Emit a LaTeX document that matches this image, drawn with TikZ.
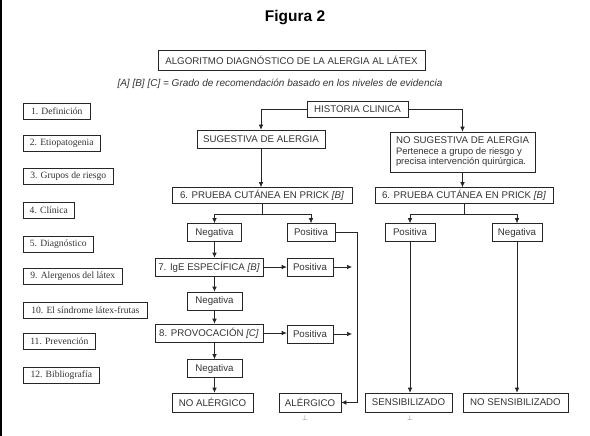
\documentclass[tikz,border=0pt]{standalone}
\usepackage{fontspec}
\setmainfont{Liberation Serif}
\setsansfont{Liberation Sans}
\usetikzlibrary{arrows.meta, calc}

\tikzset{
    caja/.style={draw=black!85, line width=0.6pt, inner sep=1pt, minimum height=18pt,
        font=\sffamily\fontsize{9.7}{10.5}\selectfont, text=black!80},
    indice/.style={draw=black!85, line width=0.6pt, anchor=west, inner sep=2pt,
        minimum height=16pt, font=\fontsize{9.6}{10}\selectfont, text=black!80},
    flecha/.style={draw=black!85, line width=0.6pt, -{Latex[length=5pt,width=4.5pt]}},
    linea/.style={draw=black!85, line width=0.6pt},
    marca/.style={text=black!55, inner sep=0pt, font=\scriptsize}
}

\begin{document}
\begin{tikzpicture}[x=1pt, y=-1pt]
    \useasboundingbox (0,0) rectangle (590,436);

    % left border
    \draw[black, line width=2pt] (1,0) -- (1,436);

    % headings
    \node[font=\sffamily\bfseries\fontsize{15.5}{17}\selectfont] (figura) at (295,18) {Figura 2};
    \node[caja, minimum width=267pt, minimum height=20pt] (algoritmo) at (291.5,60)
        {ALGORITMO DIAGNÓSTICO DE LA ALERGIA AL LÁTEX};
    \node[font=\sffamily\itshape\fontsize{10}{11}\selectfont, text=black!80] (leyenda) at (280,84)
        {[A] [B] [C] = Grado de recomendación basado en los niveles de evidencia};

    % index on the left
    \foreach \i/\y/\w/\txt in {
        1/111/67/{1. Definición},
        2/143.5/77/{2. Etiopatogenia},
        3/176.5/90/{3. Grupos de riesgo},
        4/210/51/{4. Clínica},
        5/244/70/{5. Diagnóstico},
        9/276.5/99/{9. Alergenos del látex},
        10/310/124/{10. El síndrome látex-frutas},
        11/341.5/72/{11. Prevención},
        12/375/76/{12. Bibliografía}}{
        \node[indice, minimum width=\w pt] (indice\i) at (23,\y) {\txt};
    }

    % boxes
    \node[caja, minimum width=101pt, minimum height=16pt] (historia) at (357.5,109) {HISTORIA CLINICA};
    \node[caja, minimum width=128pt] (sugestiva) at (261,139) {SUGESTIVA DE ALERGIA};
    \node[caja, minimum width=145pt, minimum height=40pt, align=left, inner sep=3pt] (nosugestiva) at (462.5,152)
        {NO SUGESTIVA DE ALERGIA\\ {\fontsize{9.4}{10.5}\selectfont Pertenece a grupo de riesgo y}\\
         {\fontsize{9.4}{10.5}\selectfont precisa intervención quirúrgica.}};
    \node[caja, minimum width=180pt, minimum height=16pt] (pruebaA) at (262,195.5) {6. PRUEBA CUTÁNEA EN PRICK \textit{[B]}};
    \node[caja, minimum width=178pt, minimum height=16pt] (pruebaB) at (464,195.5) {6. PRUEBA CUTÁNEA EN PRICK \textit{[B]}};

    \node[caja, minimum width=54pt] (negA) at (214.5,232.5) {Negativa};
    \node[caja, minimum width=48pt] (posA) at (311,232.5) {Positiva};
    \node[caja, minimum width=50pt] (posB) at (410,232.5) {Positiva};
    \node[caja, minimum width=50pt] (negB) at (517,232.5) {Negativa};

    \node[caja, minimum width=108pt] (ige) at (209,267) {7. IgE ESPECÍFICA \textit{[B]}};
    \node[caja, minimum width=46pt] (posIge) at (310,267) {Positiva};
    \node[caja, minimum width=55pt] (negIge) at (214.5,301) {Negativa};

    \node[caja, minimum width=108pt] (provocacion) at (209,333) {8. PROVOCACIÓN \textit{[C]}};
    \node[caja, minimum width=46pt] (posProv) at (310,334) {Positiva};
    \node[caja, minimum width=55pt] (negProv) at (214.5,368.5) {Negativa};

    \node[caja, minimum width=81pt, minimum height=19pt] (noalergico) at (212.5,402.5) {NO ALÉRGICO};
    \node[caja, minimum width=62pt, minimum height=19pt] (alergico) at (310,402.5) {ALÉRGICO};
    \node[caja, minimum width=87pt, minimum height=19pt] (sensib) at (408.5,402.5) {SENSIBILIZADO};
    \node[caja, minimum width=105pt, minimum height=19pt] (nosensib) at (515.5,402.5) {NO SENSIBILIZADO};

    \node[marca] (marcaA) at (305,418) {$\perp$};
    \node[marca] (marcaB) at (410,418) {$\perp$};

    % free ends of the short arrows
    \coordinate (finIge) at (352,267);
    \coordinate (finProv) at (352,334);

    % connectors
    \draw[flecha] (historia.west) -| (sugestiva.north);
    \draw[flecha] (historia.east) -| (nosugestiva.north);
    \draw[flecha] (sugestiva.south) -- (sugestiva.south |- pruebaA.north);
    \draw[flecha] (nosugestiva.south) -- (nosugestiva.south |- pruebaB.north);

    \draw[flecha] (pruebaA.south) -- ++(0,10) -| (negA.north);
    \draw[flecha] (pruebaA.south) -- ++(0,10) -| (posA.north);
    \draw[flecha] (pruebaB.south) -- ++(0,10) -| (posB.north);
    \draw[flecha] (pruebaB.south) -- ++(0,10) -| (negB.north);

    \draw[flecha] (negA.south) -- (negA.south |- ige.north);
    \draw[flecha] (ige.east) -- (posIge.west);
    \draw[flecha] (negIge.north |- ige.south) -- (negIge.north);
    \draw[flecha] (negIge.south) -- (negIge.south |- provocacion.north);
    \draw[flecha] (provocacion.east) -- (posProv.west |- provocacion.east);
    \draw[flecha] (negProv.north |- provocacion.south) -- (negProv.north);
    \draw[flecha] (negProv.south) -- (negProv.south |- noalergico.north);

    \draw[flecha] (posIge.east) -- (finIge);
    \draw[flecha] (posProv.east) -- (finProv);
    \draw[flecha] (posA.east) -- ++(22,0) |- (alergico.east);

    \draw[flecha] (posB.south) -- (posB.south |- sensib.north);
    \draw[flecha] (negB.south) -- (negB.south |- nosensib.north);
\end{tikzpicture}
\end{document}
